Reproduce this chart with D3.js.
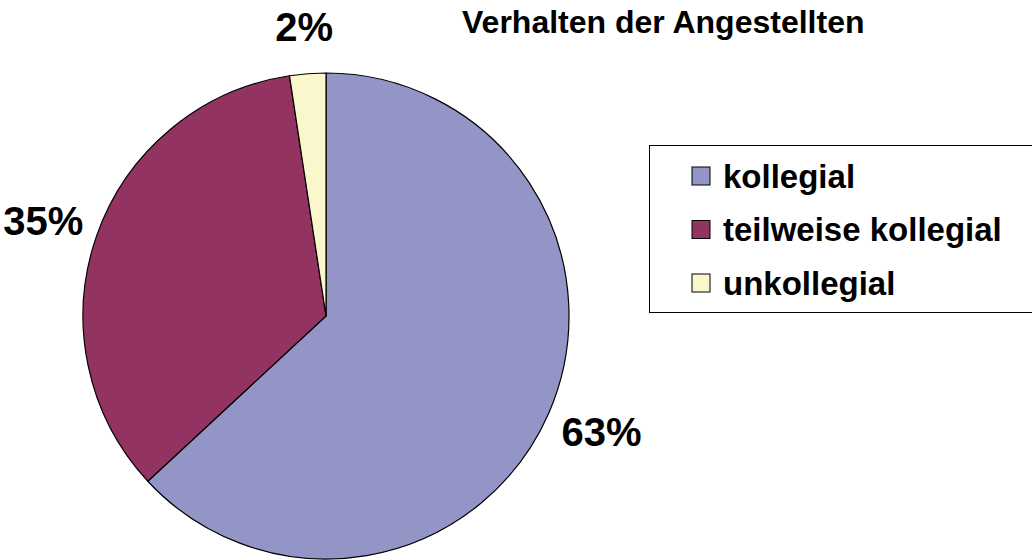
<!DOCTYPE html>
<html>
<head>
<meta charset="utf-8">
<script src="https://cdn.jsdelivr.net/npm/d3@7"></script>
<style>
 body { margin: 0; background: #fff; }
 text { font-family: "Liberation Sans", Arial, sans-serif; font-weight: bold; fill: #000; }
</style>
</head>
<body>
<script>
const width = 1032;
const height = 560;

// chart data
const categories = ["kollegial", "teilweise kollegial", "unkollegial"];
const values = [63.1, 34.5, 2.4];
const colors = ["#9495c7", "#933361", "#fbf7cd"];
const title = "Verhalten der Angestellten";

const cx = 326, cy = 316, radius = 243;

const svg = d3.select("body")
  .append("svg")
    .attr("width", width)
    .attr("height", height);

const pie = d3.pie().sort(null).value(d => d)(values);
const arc = d3.arc().innerRadius(0).outerRadius(radius);
const total = d3.sum(values);

function midAngle(d) { return (d.startAngle + d.endAngle) / 2; }

// label anchored on the side facing away from the pie
function labelAnchor(d) {
  const s = Math.sin(midAngle(d));
  return Math.abs(s) < 0.3 ? "middle" : (s > 0 ? "start" : "end");
}

function labelPos(d) {
  const a = midAngle(d);
  const rx = labelAnchor(d) === "middle" ? 290 : 257;
  return [Math.sin(a) * rx, -Math.cos(a) * 290];
}

const g = svg.append("g").attr("transform", `translate(${cx},${cy})`);

g.selectAll("path")
  .data(pie)
  .join("path")
    .attr("d", arc)
    .attr("fill", (d, i) => colors[i])
    .attr("stroke", "#000")
    .attr("stroke-width", 1.2)
    .attr("stroke-linejoin", "round");

// percent labels outside the slices
g.selectAll("text")
  .data(pie)
  .join("text")
    .attr("transform", d => `translate(${labelPos(d)})`)
    .attr("text-anchor", labelAnchor)
    .attr("dy", "0.36em")
    .style("font-size", "40px")
    .text(d => Math.round(d.data / total * 100) + "%");

// title
svg.append("text")
  .attr("x", 462)
  .attr("y", 33)
  .style("font-size", "32px")
  .text(title);

// legend
svg.append("rect")
  .attr("x", 649.5)
  .attr("y", 145.5)
  .attr("width", 400)
  .attr("height", 167)
  .attr("fill", "#fff")
  .attr("stroke", "#000")
  .attr("stroke-width", 1);

const legend = svg.append("g")
  .selectAll("g")
  .data(categories)
  .join("g")
    .attr("transform", (d, i) => `translate(692,${167 + i * 53.5})`);

legend.append("rect")
  .attr("width", 18)
  .attr("height", 18)
  .attr("fill", (d, i) => colors[i])
  .attr("stroke", "#000")
  .attr("stroke-width", 1);

legend.append("text")
  .attr("x", 31)
  .attr("y", 9)
  .attr("dy", "0.36em")
  .style("font-size", "33px")
  .text(d => d);
</script>
</body>
</html>
